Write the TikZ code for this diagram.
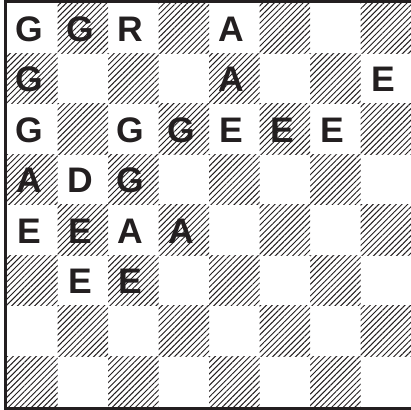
\documentclass[tikz,border=0pt]{standalone}
\usepackage{fontspec}
\setmainfont{Liberation Sans}
\usetikzlibrary{patterns.meta}
\definecolor{inkgrey}{RGB}{35,31,32}

\begin{document}
\begin{tikzpicture}[hatched/.style={pattern={Lines[angle=45,distance=2.3pt,line width=0.55pt]},pattern color=inkgrey},letter/.style={font=\fontsize{20}{20}\selectfont\bfseries,text=inkgrey,inner sep=0pt},frame/.style={line width=1.7pt,draw=inkgrey}]
\useasboundingbox (-0.139,-0.059) rectangle (8,8.059);
% board
\foreach \r in {0,...,7} \foreach \c in {0,...,7} {
  \pgfmathparse{int(mod(\r+\c,2))}
  \ifnum\pgfmathresult=1 \fill[hatched] (\c,7-\r) rectangle ++(1,1); \fi
}
\draw[frame] (-0.03,-0.03) rectangle (8.03,8.03);
% row 1
\node[letter] (r1c1) at (0.45,7.48) {G}; \node[letter] (r1c2) at (1.45,7.48) {G};
\node[letter] (r1c3) at (2.45,7.48) {R}; \node[letter] (r1c5) at (4.45,7.48) {A};
% row 2
\node[letter] (r2c1) at (0.45,6.48) {G}; \node[letter] (r2c5) at (4.45,6.48) {A};
\node[letter] (r2c8) at (7.45,6.48) {E};
% row 3
\node[letter] (r3c1) at (0.45,5.48) {G}; \node[letter] (r3c3) at (2.45,5.48) {G};
\node[letter] (r3c4) at (3.45,5.48) {G}; \node[letter] (r3c5) at (4.45,5.48) {E};
\node[letter] (r3c6) at (5.45,5.48) {E}; \node[letter] (r3c7) at (6.45,5.48) {E};
% row 4
\node[letter] (r4c1) at (0.45,4.48) {A}; \node[letter] (r4c2) at (1.45,4.48) {D};
\node[letter] (r4c3) at (2.45,4.48) {G};
% row 5
\node[letter] (r5c1) at (0.45,3.48) {E}; \node[letter] (r5c2) at (1.45,3.48) {E};
\node[letter] (r5c3) at (2.45,3.48) {A}; \node[letter] (r5c4) at (3.45,3.48) {A};
% row 6
\node[letter] (r6c2) at (1.45,2.48) {E}; \node[letter] (r6c3) at (2.45,2.48) {E};
\end{tikzpicture}
\end{document}
